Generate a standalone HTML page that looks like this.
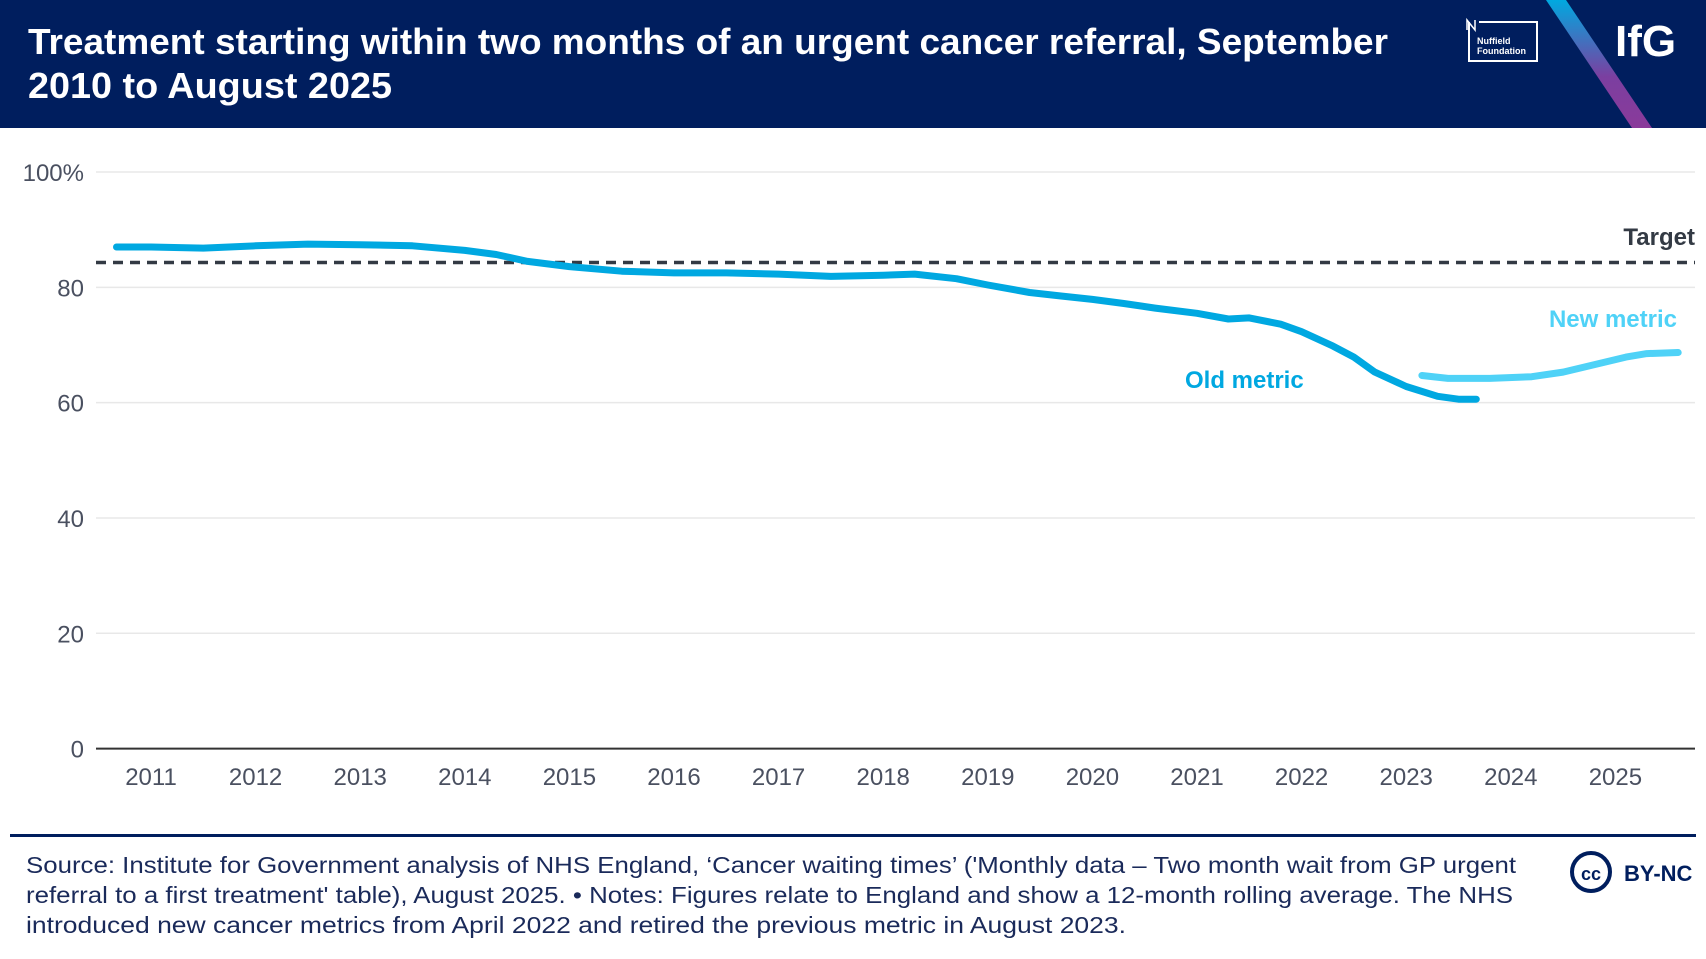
<!DOCTYPE html>
<html><head><meta charset="utf-8"><style>
body{margin:0;width:1706px;height:954px;background:#fff;overflow:hidden;font-family:"Liberation Sans",sans-serif}
</style></head><body>
<svg width="1706" height="954" viewBox="0 0 1706 954" xmlns="http://www.w3.org/2000/svg">
<defs><linearGradient id="g" x1="0" y1="0" x2="0" y2="1"><stop offset="0" stop-color="#00a9e0"/><stop offset="0.6" stop-color="#7b3fa0"/><stop offset="1" stop-color="#8a3a9a"/></linearGradient></defs>
<rect x="0" y="0" width="1706" height="128" fill="#001e5e"/>
<polygon points="1546,0 1566,0 1652,128 1632,128" fill="url(#g)"/>
<text x="28" y="54" fill="#fff" font-size="36" font-weight="bold" textLength="1360" lengthAdjust="spacingAndGlyphs">Treatment starting within two months of an urgent cancer referral, September</text>
<text x="28" y="98" fill="#fff" font-size="36" font-weight="bold" textLength="364" lengthAdjust="spacingAndGlyphs">2010 to August 2025</text>
<g><polyline points="1469,22 1469,61 1537,61 1537,22 1479,22" fill="none" stroke="#fff" stroke-width="2"/><polyline points="1467,30 1467,20 1475,30 1475,20" fill="none" stroke="#fff" stroke-width="1.5"/><text x="1477" y="44" fill="#fff" font-size="9" font-weight="bold">Nuffield</text><text x="1477" y="54" fill="#fff" font-size="9" font-weight="bold">Foundation</text></g>
<text x="1615" y="56" fill="#fff" font-size="44" font-weight="bold">IfG</text>
<g id="grid"></g><g id="xt"></g><g id="series"></g>
<text x="1695" y="245" text-anchor="end" fill="#333a44" font-size="24" font-weight="bold">Target</text>
<text x="1185" y="388" fill="#00a8e1" font-size="24" font-weight="bold">Old metric</text>
<text x="1677" y="327" text-anchor="end" fill="#4fd2f7" font-size="24" font-weight="bold">New metric</text>
<rect x="10" y="834" width="1686" height="3" fill="#001e5e"/>
<g font-size="23" fill="#1a2a5a">
<text x="26" y="873" textLength="1490" lengthAdjust="spacingAndGlyphs">Source: Institute for Government analysis of NHS England, ‘Cancer waiting times’ ('Monthly data – Two month wait from GP urgent</text>
<text x="26" y="903" textLength="1487" lengthAdjust="spacingAndGlyphs">referral to a first treatment' table), August 2025. • Notes: Figures relate to England and show a 12-month rolling average. The NHS</text>
<text x="26" y="933" textLength="1100" lengthAdjust="spacingAndGlyphs">introduced new cancer metrics from April 2022 and retired the previous metric in August 2023.</text>
</g>
<g><circle cx="1591" cy="872" r="19" fill="none" stroke="#001e5e" stroke-width="4"/><text x="1591" y="880" text-anchor="middle" font-size="18" font-weight="bold" fill="#001e5e">cc</text><text x="1624" y="881" font-size="22" font-weight="bold" fill="#001e5e">BY-NC</text></g>
</svg>
<script>
const yTicks=[0,20,40,60,80,100];
const years=[2011,2012,2013,2014,2015,2016,2017,2018,2019,2020,2021,2022,2023,2024,2025];
const target=84.3;
const oldT=[2010.67,2011,2011.5,2012,2012.5,2013,2013.5,2014,2014.3,2014.6,2015,2015.5,2016,2016.5,2017,2017.5,2018,2018.3,2018.7,2019,2019.4,2019.7,2020,2020.3,2020.6,2021,2021.3,2021.5,2021.8,2022,2022.3,2022.5,2022.7,2023,2023.3,2023.5,2023.67];
const oldV=[87.0,87.0,86.8,87.2,87.5,87.4,87.2,86.4,85.7,84.5,83.6,82.8,82.5,82.5,82.3,81.9,82.1,82.3,81.5,80.4,79.1,78.5,77.9,77.2,76.4,75.5,74.5,74.7,73.6,72.3,69.8,67.9,65.3,62.8,61.1,60.6,60.6];
const newT=[2023.15,2023.4,2023.8,2024.2,2024.5,2024.8,2025.1,2025.3,2025.6];
const newV=[64.7,64.2,64.2,64.5,65.3,66.6,67.9,68.5,68.7];
const NS='http://www.w3.org/2000/svg';
const X=t=>151+(t-2011)*104.6, Y=v=>748.6-v*5.766;
function mk(tag,attrs,parent){const e=document.createElementNS(NS,tag);for(const k in attrs)e.setAttribute(k,attrs[k]);document.getElementById(parent).appendChild(e);return e;}
yTicks.forEach(v=>{
  const l=mk('line',{x1:96,x2:1695,y1:Y(v),y2:Y(v),stroke:v===0?'#333':'#e8e8e8','stroke-width':v===0?2:1.5},'grid');
  
  
  const t=mk('text',{x:84,y:Y(v)+9,'text-anchor':'end','font-size':24,fill:'#4a5060'},'grid');
  t.textContent=v===100?'100%':String(v);
  
  
});
years.forEach(y=>{
  const t=mk('text',{x:X(y),y:785,'text-anchor':'middle','font-size':24,fill:'#4a5060'},'xt');
  t.textContent=String(y);
  
  
});
const tl=mk('line',{x1:96,x2:1695,y1:Y(target),y2:Y(target),stroke:'#333a44','stroke-width':3.5,'stroke-dasharray':'10 7'},'series');


function path(T,V){return T.map((t,i)=>(i?'L':'M')+X(t).toFixed(1)+','+Y(V[i]).toFixed(1)).join(' ');}
const po=mk('path',{d:path(oldT,oldV),fill:'none',stroke:'#00a8e1','stroke-width':7,'stroke-linecap':'round','stroke-linejoin':'round'},'series');


const pn=mk('path',{d:path(newT,newV),fill:'none',stroke:'#4fd2f7','stroke-width':7,'stroke-linecap':'round','stroke-linejoin':'round'},'series');


</script>
</body></html>
